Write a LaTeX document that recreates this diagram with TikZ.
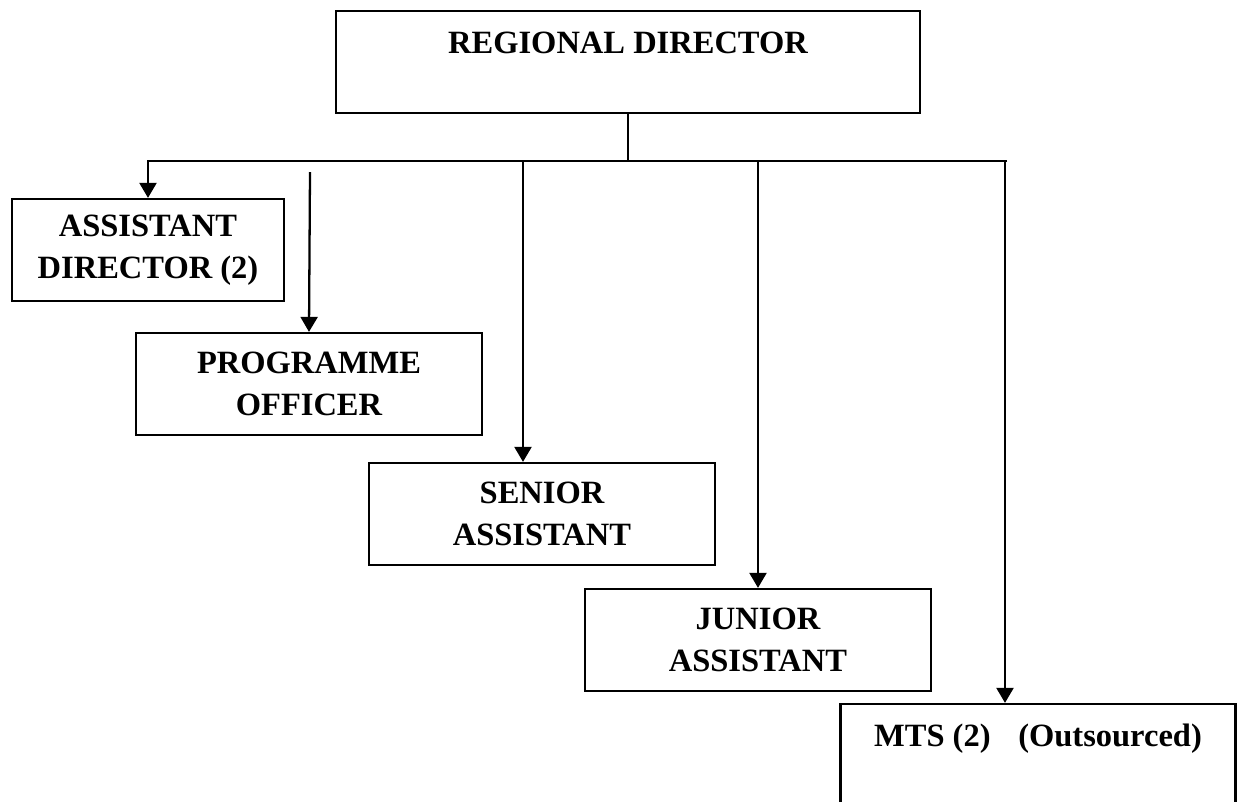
\documentclass[tikz,border=0pt]{standalone}
\usepackage{fontspec}
\setmainfont{Liberation Serif}
\usetikzlibrary{arrows.meta}

\begin{document}
\begin{tikzpicture}[x=0.02cm, y=-0.02cm, line width=1.3pt,
  poste/.style={draw, align=center, inner sep=0pt, minimum height=2.04cm,
    font=\bfseries\fontsize{18.5}{23.9}\selectfont},
  fleche/.style={-{Triangle[length=0.3cm, width=0.34cm]}}]

  % Cadre de l'image
  \useasboundingbox (0,0) rectangle (1242,802);
  \clip (0,0) rectangle (1242,802);

  % Paramètres
  \def\large{6.92cm} % largeur commune des postes

  % Directeur régional (texte en haut du cadre)
  \node[poste, minimum width=11.68cm, text height=0.84cm, text depth=1.2cm]
    (rd) at (628,62) {REGIONAL DIRECTOR};

  % Postes subordonnés
  \node[poste, minimum width=5.44cm] (ad) at (148,250) {ASSISTANT\\DIRECTOR (2)};
  \node[poste, minimum width=\large] (po) at (309,384) {PROGRAMME\\OFFICER};
  \node[poste, minimum width=\large] (sa) at (542,514) {SENIOR\\ASSISTANT};
  \node[poste, minimum width=\large] (ja) at (758,640) {JUNIOR\\ASSISTANT};

  % MTS (coupé en bas)
  \node[poste, minimum width=7.9cm, text height=0.84cm, text depth=1.32cm]
    (mts) at (1038,758) {MTS (2)\hspace{0.85em}(Outsourced)};

  % Barre horizontale
  \coordinate (b0) at (148,161);
  \coordinate (b1) at (1007,161);
  \coordinate (t2) at (310,172);
  \coordinate (t3) at (523,161);
  \coordinate (t5) at (1005,161);

  % Liaisons
  \draw (rd.south) -- (rd.south |- b0);
  \draw[fleche] (b1) -| (ad.north);
  \draw[fleche] (t2) -- (po.north);
  \draw[fleche] (t3) -- (t3 |- sa.north);
  \draw[fleche] (ja.north |- b0) -- (ja.north);
  \draw[fleche] (t5) -- (t5 |- mts.north);

\end{tikzpicture}
\end{document}
